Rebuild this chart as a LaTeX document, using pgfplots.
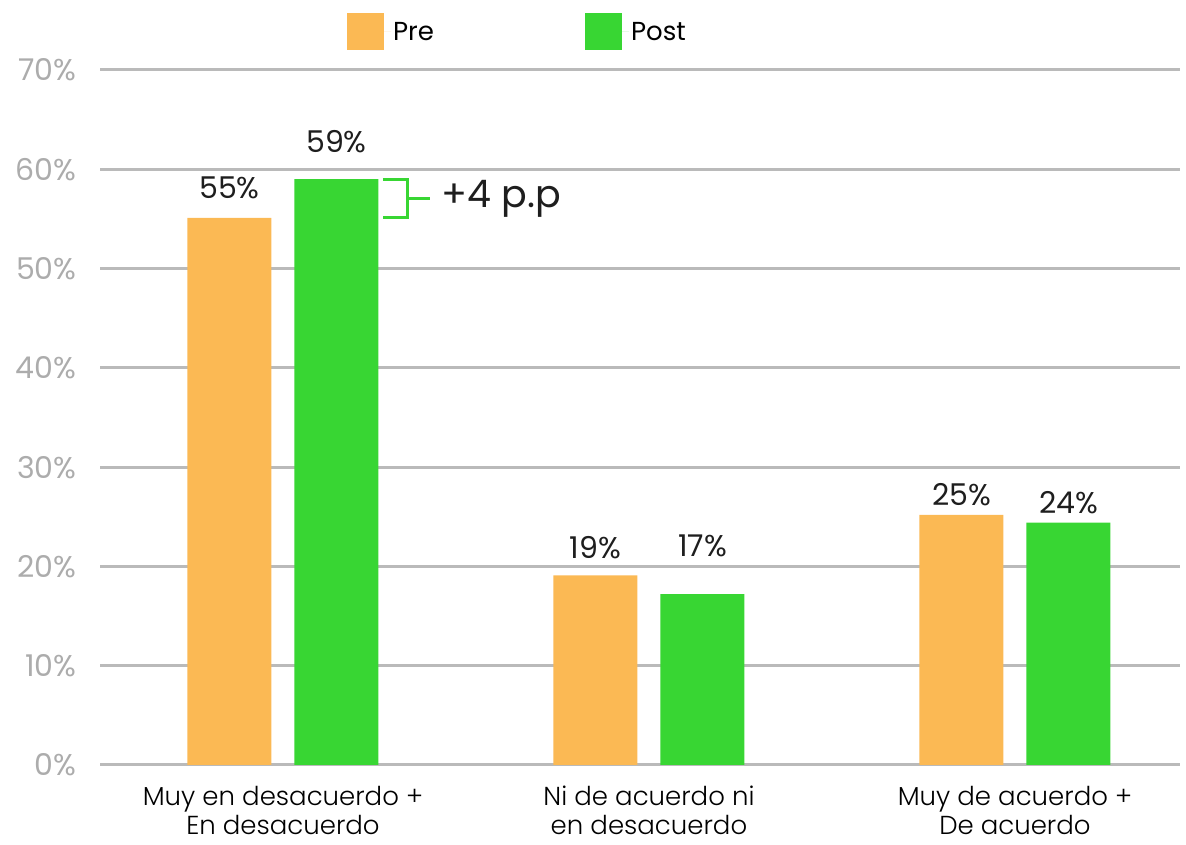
\documentclass[border=0pt]{standalone}
\usepackage{pgfplots}
\pgfplotsset{compat=1.18}
\usepackage{pgfplotstable}
\usepackage{fontspec}
\setmainfont{Poppins}
\newfontfamily\lightfont{Poppins Light}
\definecolor{pre}{RGB}{251,185,84}
\definecolor{post}{RGB}{56,214,51}
\definecolor{gridc}{RGB}{186,186,186}
\definecolor{tickc}{RGB}{172,172,172}
\definecolor{txt}{RGB}{30,30,30}

\pgfplotstableread{
x y off
0 55.1 30
1 19.1 28
2 25.2 20
}\predata
\pgfplotstableread{
x y off
0 59.0 38
1 17.2 48
2 24.4 20
}\postdata

\begin{document}
\begin{tikzpicture}[x=1pt,y=1pt]
\useasboundingbox (0,0) rectangle (1186,845);
\begin{axis}[
  at={(100pt,80pt)}, anchor=south west,
  width=1080pt, height=695pt, scale only axis,
  xmin=-0.5, xmax=2.451, ymin=0, ymax=70,
  axis line style={draw=none},
  tick style={draw=none},
  major tick length=0pt,
  ymajorgrids,
  grid style={gridc, line width=3pt},
  xtick={0,1,2},
  xticklabels={{Muy en desacuerdo +\\En desacuerdo},{Ni de acuerdo ni\\en desacuerdo},{Muy de acuerdo +\\De acuerdo}},
  xticklabel style={align=center, font=\lightfont\fontsize{26}{29}\selectfont, text=black, anchor=north, inner sep=0pt, yshift=-21pt},
  ytick={0,10,...,70},
  yticklabels={0\%,10\%,20\%,30\%,40\%,50\%,60\%,70\%},
  yticklabel style={font=\fontsize{30}{36}\selectfont, text=tickc, anchor=east, xshift=-20pt},
  /pgf/number format/assume math mode=true,
  ybar, bar width=84pt,
  clip=false,
  legend image code/.code={\fill[#1] (0pt,-18.5pt) rectangle (37pt,18.5pt); \path (37pt,0pt) -- (44pt,0pt);},
  legend style={at={(0.2259,1.0547)}, anchor=west, draw=none, fill=none,
    legend columns=2, font=\fontsize{26}{30}\selectfont,
    /tikz/every even column/.append style={column sep=149pt}},
  nodes near coords={\pgfmathprintnumber[fixed,precision=0]{\pgfplotspointmeta}\%},
  every node near coord/.append style={font=\fontsize{30}{36}\selectfont, text=txt},
]
\addplot[fill=pre, draw=none, bar shift=-53.5pt,
  visualization depends on={\thisrow{off}\as\off},
  every node near coord/.append style={anchor=center, yshift=\off pt}]
  table[x=x,y=y] {\predata};
\addlegendentry{Pre}
\addplot[fill=post, draw=none, bar shift=53.5pt,
  visualization depends on={\thisrow{off}\as\off},
  every node near coord/.append style={anchor=center, yshift=\off pt}]
  table[x=x,y=y] {\postdata};
\addlegendentry{Post}
\draw[post, line width=3pt]
  ([xshift=100pt]axis cs:0,59.0) -- ([xshift=125pt]axis cs:0,59.0)
  -- ([xshift=125pt]axis cs:0,55.1) -- ([xshift=100pt]axis cs:0,55.1);
\draw[post, line width=3pt]
  ([xshift=125pt]axis cs:0,57.05) -- ([xshift=147pt]axis cs:0,57.05);
\node[anchor=west, font=\fontsize{38}{44}\selectfont, text=txt, inner sep=0pt]
  at ([xshift=158.5pt]axis cs:0,57.05) {+4 p.p};
\end{axis}
\end{tikzpicture}
\end{document}
